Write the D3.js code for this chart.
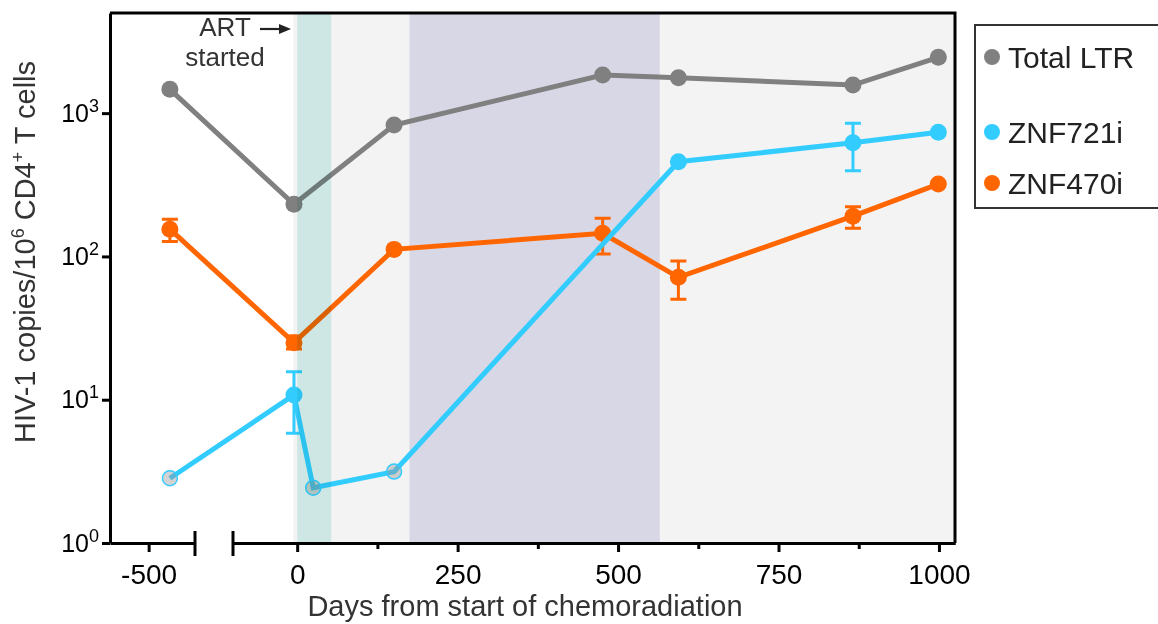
<!DOCTYPE html>
<html>
<head>
<meta charset="utf-8">
<script src="https://cdn.jsdelivr.net/npm/d3@7"></script>
<style>
  body { margin: 0; background: #fff; }
  svg { font-family: "Liberation Sans", Arial, sans-serif; }
</style>
</head>
<body>
<svg id="chart" width="1158" height="624"></svg>
<script>
// days from start of chemoradiation
var totalDays = [-467, -5, 151, 476, 594, 866, 999];
var totalLTR  = [1466, 231, 826, 1845, 1766, 1571, 2451];

var znf721Days = [-467, -5, 25, 151, 594, 866, 999];
var znf721     = [2.83, 10.8, 2.43, 3.15, 458, 622, 735];
var znf721Lo   = [null, 5.83, null, null, null, 396, null];
var znf721Hi   = [null, 15.7, null, null, null, 849, null];
var znf721Grey = [true, false, true, true, false, false, false];

var znf470Days = [-467, -5, 151, 476, 594, 866, 999];
var znf470     = [155, 25, 112, 145, 71.5, 191, 320];
var znf470Lo   = [127, 22.6, null, 104, 50.2, 157, null];
var znf470Hi   = [182, 27.8, null, 184.5, 92.9, 222, null];

var followUp = [-6, 1025];
var artBand  = [0, 53];
var purpleBand = [175, 565];

var xTicks = [0, 250, 500, 750, 1000];
var xMinor = [125, 375, 625, 875];
var xLeftTicks = [-500];
var yTicks = [1, 10, 100, 1000];

var seriesNames = ["Total LTR", "ZNF721i", "ZNF470i"];
var seriesColors = ["#808080", "#33ccff", "#ff6600"];

var svg = d3.select("#chart");
var top_ = 13, bottom = 543, left = 110, right = 955;

// broken x axis: a short pre-treatment segment and the main one
var xL = d3.scaleLinear().domain([-560, -428]).range([left, 195]);
var x = d3.scaleLinear().domain([-100, 1025]).range([233, right]);
function px(d){ return d < -300 ? xL(d) : x(d); }
var y = d3.scaleLog().domain([1, 5000]).range([bottom, top_]);

//Background bands
svg.append("rect")
  .attr("x", x(followUp[0])).attr("y", top_)
  .attr("width", x(followUp[1]) - x(followUp[0])).attr("height", bottom - top_)
  .attr("fill", "#f3f3f3");
svg.append("rect")
  .attr("x", x(purpleBand[0])).attr("y", top_)
  .attr("width", x(purpleBand[1]) - x(purpleBand[0])).attr("height", bottom - top_)
  .attr("fill", "#d8d7e6");

var line = d3.line()
  .x(function(d){ return px(d[0]); })
  .y(function(d){ return y(d[1]); });

function drawSeries(days, vals, lo, hi, color, grey){
  var pts = days.map(function(d,i){ return [d, vals[i], lo ? lo[i] : null, hi ? hi[i] : null, grey ? grey[i] : false]; });
  var g = svg.append("g");
  g.append("path")
    .attr("d", line(pts))
    .attr("fill", "none")
    .attr("stroke", color)
    .attr("stroke-width", 5);
  var err = pts.filter(function(p){ return p[2] != null; });
  g.selectAll(".err").data(err).enter().append("path")
    .attr("d", function(p){
      var cx = px(p[0]), y1 = y(p[3]), y2 = y(p[2]);
      return "M" + (cx-8) + "," + y1 + "H" + (cx+8) + "M" + cx + "," + y1 + "V" + y2 + "M" + (cx-8) + "," + y2 + "H" + (cx+8);
    })
    .attr("fill", "none")
    .attr("stroke", color)
    .attr("stroke-width", 3);
  g.selectAll("circle").data(pts).enter().append("circle")
    .attr("cx", function(p){ return px(p[0]); })
    .attr("cy", function(p){ return y(p[1]); })
    .attr("r", function(p){ return p[4] ? 7.5 : 8.5; })
    .attr("fill", function(p){ return p[4] ? "rgba(150,150,150,0.42)" : color; })
    .attr("stroke", function(p){ return p[4] ? color : "none"; })
    .attr("stroke-width", 1.5);
}
drawSeries(totalDays, totalLTR, null, null, seriesColors[0]);
drawSeries(znf470Days, znf470, znf470Lo, znf470Hi, seriesColors[2]);
drawSeries(znf721Days, znf721, znf721Lo, znf721Hi, seriesColors[1], znf721Grey);

// ART band sits over the lines and tints them
svg.append("rect")
  .attr("x", x(artBand[0])).attr("y", top_)
  .attr("width", x(artBand[1]) - x(artBand[0])).attr("height", bottom - top_)
  .attr("fill", "#daf3f0")
  .style("mix-blend-mode", "multiply");

// frame
svg.append("path")
  .attr("d", "M" + left + "," + top_ + "H" + right + "V" + bottom)
  .attr("fill", "none").attr("stroke", "#000").attr("stroke-width", 3);

//Axes
function styleAxis(g){
  g.select(".domain").attr("stroke", "#000").attr("stroke-width", 3);
  g.selectAll(".tick line").attr("stroke", "#000").attr("stroke-width", 3);
  g.selectAll(".tick text").attr("fill", "#000").attr("font-size", 28);
}
var fmt = function(d){ return String(d); };
svg.append("g")
  .attr("transform", "translate(0," + bottom + ")")
  .call(d3.axisBottom(x).tickValues(xTicks).tickSize(9).tickSizeOuter(0).tickPadding(12).tickFormat(fmt))
  .call(styleAxis);
svg.append("g")
  .attr("transform", "translate(0," + bottom + ")")
  .call(d3.axisBottom(x).tickValues(xMinor).tickSize(6).tickSizeOuter(0).tickFormat(""))
  .call(styleAxis);
svg.append("g")
  .attr("transform", "translate(0," + bottom + ")")
  .call(d3.axisBottom(xL).tickValues(xLeftTicks).tickSize(9).tickSizeOuter(0).tickPadding(12).tickFormat(fmt))
  .call(styleAxis);
// break caps
svg.selectAll(".cap").data([xL.range()[1], x.range()[0]]).enter().append("line")
  .attr("x1", function(d){ return d; }).attr("x2", function(d){ return d; })
  .attr("y1", bottom - 12).attr("y2", bottom + 13)
  .attr("stroke", "#000").attr("stroke-width", 3);

var yAxis = svg.append("g")
  .attr("transform", "translate(" + left + ",0)")
  .call(d3.axisLeft(y).tickValues(yTicks).tickSize(8).tickSizeOuter(0).tickPadding(3).tickFormat(""))
  .call(styleAxis);
yAxis.selectAll(".tick text")
  .attr("font-size", 25)
  .each(function(d){
    var t = d3.select(this);
    t.append("tspan").text("10");
    t.append("tspan").attr("font-size", 18).attr("dy", -10).text(Math.round(Math.log10(d)));
  });

svg.append("text")
  .attr("x", 525).attr("y", 616)
  .attr("text-anchor", "middle")
  .attr("font-size", 29).attr("fill", "#333")
  .text("Days from start of chemoradiation");

var yTitle = svg.append("text")
  .attr("transform", "translate(35,252) rotate(-90)")
  .attr("text-anchor", "middle")
  .attr("font-size", 29).attr("fill", "#333");
yTitle.append("tspan").text("HIV-1 copies/10");
yTitle.append("tspan").attr("font-size", 18).attr("dy", -11).text("6");
yTitle.append("tspan").attr("dy", 11).text(" CD4");
yTitle.append("tspan").attr("font-size", 18).attr("dy", -11).text("+");
yTitle.append("tspan").attr("dy", 11).text(" T cells");

// ART started note
svg.append("text").attr("x", 225).attr("y", 36).attr("text-anchor", "middle")
  .attr("font-size", 26).attr("fill", "#333").text("ART");
svg.append("text").attr("x", 225).attr("y", 66).attr("text-anchor", "middle")
  .attr("font-size", 26).attr("fill", "#333").text("started");
svg.append("path").attr("d", "M260,29H281").attr("stroke", "#222").attr("stroke-width", 2.2);
svg.append("path").attr("d", "M291,29L279,24L279,34Z").attr("fill", "#222");

//Legend
var legend = svg.append("g");
legend.append("rect")
  .attr("x", 975).attr("y", 25).attr("width", 200).attr("height", 183)
  .attr("fill", "#fff").attr("stroke", "#333").attr("stroke-width", 2);
var legendY = [57, 132, 183];
var items = legend.selectAll(".item").data(seriesNames).enter().append("g")
  .attr("transform", function(d,i){ return "translate(992," + legendY[i] + ")"; });
items.append("circle").attr("r", 8).attr("fill", function(d,i){ return seriesColors[i]; });
items.append("text").attr("x", 16).attr("y", 11)
  .attr("font-size", 30).attr("fill", "#222")
  .text(function(d){ return d; });
</script>
</body>
</html>
